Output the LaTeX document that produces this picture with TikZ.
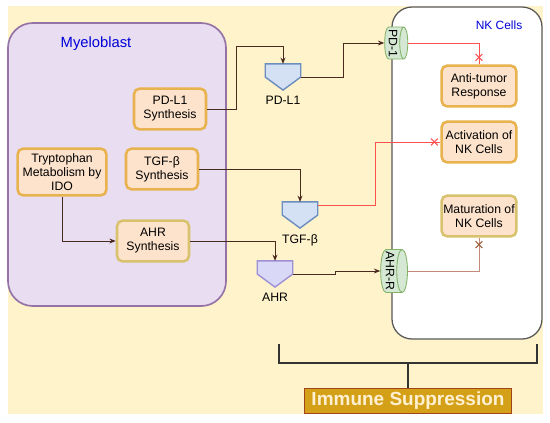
\documentclass[tikz,border=0pt]{standalone}
\usepackage{fontspec}
\setmainfont{Liberation Sans}
\usepackage{xcolor}
\definecolor{colBack}{HTML}{FFF3CC}
\definecolor{colMyelo}{HTML}{E9DDF1}
\definecolor{colMyeloLine}{HTML}{9673A6}
\definecolor{colBox}{HTML}{FDE3CC}
\definecolor{colBoxLine}{HTML}{E8B24E}
\definecolor{colBoxLineB}{HTML}{D9C26E}
\definecolor{colLig}{HTML}{D4E1F5}
\definecolor{colLigLine}{HTML}{6C8EBF}
\definecolor{colLigB}{HTML}{D9D9F7}
\definecolor{colLigBLine}{HTML}{9E90D6}
\definecolor{colRec}{HTML}{D5E8D4}
\definecolor{colRecLine}{HTML}{82B366}
\definecolor{colArrow}{HTML}{4A2A1E}
\definecolor{colInhib}{HTML}{FF5050}
\definecolor{colMat}{HTML}{C48A78}
\definecolor{colMatX}{HTML}{A0603C}
\definecolor{colGold}{HTML}{D4A017}
\definecolor{colGoldLine}{HTML}{A0441E}
\definecolor{colCream}{HTML}{FFF0D2}
\usepackage{tikz}
\usetikzlibrary{arrows.meta, positioning, calc, shapes.geometric, shapes.misc}

\begin{document}
\begin{tikzpicture}[x=0.025cm, y=-0.025cm, every node/.style={font=\fontsize{8.7}{10}\selectfont, align=center},
		>={Stealth[length=4.5pt, width=3.5pt]},
		synbox/.style={draw=colBoxLine, line width=1.8pt, fill=colBox, rounded corners=4pt,
			minimum width=1.8cm, minimum height=1.02cm, inner sep=1pt},
		ligand/.style={minimum width=0.875cm, minimum height=0.64cm, inner sep=0pt},
		receptor/.style={cylinder, draw=colRecLine, fill=colRec, line width=0.6pt, aspect=0.25, inner sep=1.5pt},
		arr/.style={->, draw=colArrow, line width=0.7pt},
		inhib/.style={draw=colInhib, line width=0.7pt},
		crossx/.style={cross out, draw=#1, minimum size=4pt, inner sep=0pt, line width=0.8pt},
		bracket/.style={draw=black!80, line width=1.3pt}]
	\useasboundingbox (0,0) rectangle (550,422);
	\fill[colBack] (8,6) rectangle (543,414);
	% cells
	\draw[colMyeloLine, fill=colMyelo, line width=1.2pt, rounded corners=0.62cm] (8,23) rectangle (226,306);
	\node[text=blue!85!black, font=\fontsize{10.5}{12}\selectfont] (myeloLbl) at (96,44) {Myeloblast};
	\draw[black!65, fill=white, line width=0.9pt, rounded corners=0.5cm] (392,7) rectangle (542,339);
	\node[text=blue!85!black, font=\fontsize{8.5}{10}\selectfont] (nkLbl) at (499,25) {NK Cells};
	% processes
	\node[synbox] (pdlsyn) at (170,109) {PD-L1\\Synthesis};
	\node[synbox, minimum width=2.22cm, minimum height=1.17cm] (trpmet) at (62,172) {Tryptophan\\Metabolism by\\IDO};
	\node[synbox] (tgfsyn) at (162,169) {TGF-β\\Synthesis};
	\node[synbox, draw=colBoxLineB] (ahrsyn) at (153,241) {AHR\\Synthesis};
	\node[synbox, minimum width=1.87cm] (antitum) at (479,86) {Anti-tumor\\Response};
	\node[synbox, minimum width=1.87cm] (activ) at (479,142) {Activation of\\NK Cells};
	\node[synbox, minimum width=1.87cm, draw=colBoxLineB] (matur) at (479,216) {Maturation of\\NK Cells};
	% ligands
	\foreach \n/\x/\y/\f/\d/\l in {pdl1/283/77/colLig/colLigLine/PD-L1, tgf/300/215/colLig/colLigLine/TGF-β, ahr/275/274/colLigB/colLigBLine/AHR}{
		\node[ligand] (\n) at (\x,\y) {};
		\draw[fill=\f, draw=\d, line width=1pt]
			(\n.north west) -- (\n.north east) -- (\n.east) -- (\n.south) -- (\n.west) -- cycle;
		\node[below=1pt of \n] (\n-lbl) {\l};
	}
	% receptors
	\node[receptor] (pd1) at (393,43) {\rotatebox{-90}{PD-1}};
	\node[receptor] (ahrr) at (390,271) {\rotatebox{-90}{AHR-R}};
	% connectors
	\draw[arr] (pdlsyn.east) -| (236,46) -| (pdl1.north);
	\draw[arr] (pdl1.east) -| (343,43) -- (pd1.west);
	\draw[inhib] (pd1.east) -| (antitum.north);
	\node[crossx=colInhib] (xAnti) at ($(antitum.north)+(0,-7)$) {};
	\draw[arr] (tgfsyn.east) -| (tgf.north);
	\draw[inhib] ($(tgf.north east)!0.3!(tgf.east)$) -| (375,142) -- (activ.west);
	\node[crossx=colInhib] (xActiv) at ($(activ.west)+(-6,0)$) {};
	\draw[arr] (trpmet.south) |- (ahrsyn.west);
	\draw[arr] (ahrsyn.east) -| (ahr.north);
	\draw[arr] (ahr.east) -- ++(43,0) |- (ahrr.west);
	\draw[draw=colMat, line width=0.7pt] (ahrr.east) -| (matur.south);
	\node[crossx=colMatX] (xMatur) at ($(matur.south)+(0,7)$) {};
	% outcome
	\node[fill=colGold, draw=colGoldLine, line width=0.8pt, text=colCream, font=\bfseries\fontsize{13.5}{15}\selectfont,
		minimum width=5.18cm, minimum height=0.63cm, inner sep=0pt] (immune) at (408,401) {Immune Suppression};
	\coordinate (brL) at (279,344);
	\coordinate (brR) at (537,344);
	\coordinate (brM) at (408,363);
	\draw[bracket] (brL) |- (brM) -| (brR);
	\draw[bracket] (brM) -- (immune.north);
\end{tikzpicture}
\end{document}
